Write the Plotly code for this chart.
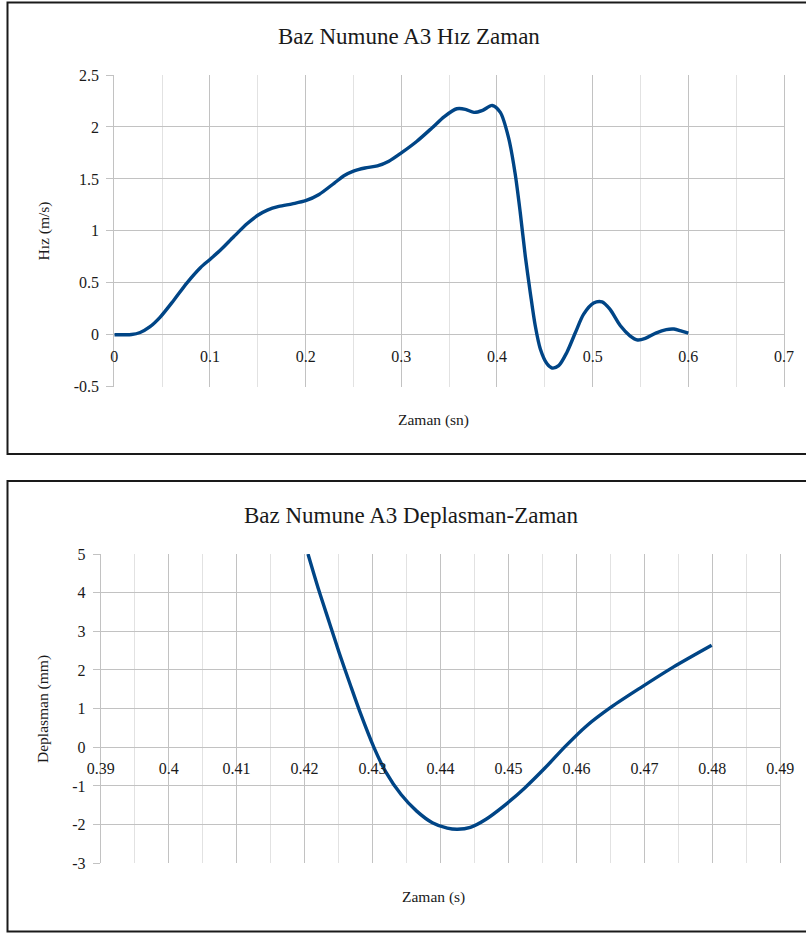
import plotly.graph_objects as go

# ---------------- data ----------------
# Top chart: velocity (m/s) vs time (s)
T_VEL = [0, 0.010, 0.018, 0.027, 0.037, 0.048, 0.062, 0.076, 0.090, 0.100, 0.111,
         0.125, 0.139, 0.150, 0.160, 0.172, 0.186, 0.200, 0.214, 0.230, 0.240, 0.250,
         0.262, 0.275, 0.287, 0.300, 0.316, 0.332, 0.345, 0.358, 0.367, 0.376, 0.385, 0.395,
         0.4035, 0.412, 0.419, 0.4244, 0.4296, 0.4348, 0.440, 0.4453, 0.4523, 0.4575,
         0.4645, 0.473, 0.482, 0.4906, 0.501, 0.5098, 0.518, 0.529, 0.539, 0.547,
         0.555, 0.566, 0.577, 0.585, 0.593, 0.600]
VEL = [0, 0, 0.002, 0.022, 0.075, 0.17, 0.33, 0.50, 0.645, 0.725, 0.815,
       0.945, 1.07, 1.15, 1.20, 1.235, 1.26, 1.29, 1.35, 1.46, 1.53, 1.575,
       1.605, 1.625, 1.67, 1.75, 1.86, 1.99, 2.10, 2.175, 2.17, 2.14, 2.16, 2.207,
       2.14, 1.90, 1.55, 1.17, 0.756, 0.405, 0.086, -0.137, -0.28, -0.32,
       -0.297, -0.17, 0.022, 0.198, 0.305, 0.316, 0.246, 0.086, -0.01, -0.05,
       -0.035, 0.016, 0.05, 0.055, 0.035, 0.015]

# Bottom chart: displacement (mm) vs time (s)
T_DISP = [0.4205, 0.4221, 0.4236, 0.4251, 0.4267, 0.4282, 0.4302, 0.4319, 0.4342,
          0.4365, 0.4388, 0.4410, 0.4425, 0.4444, 0.4467, 0.4493, 0.4524, 0.4554,
          0.4584, 0.4614, 0.4652, 0.4697, 0.4743, 0.4799]
DISP = [5.0, 4.06, 3.25, 2.44, 1.63, 0.89, 0.0, -0.62, -1.22, -1.65, -1.95, -2.09,
        -2.12, -2.07, -1.86, -1.52, -1.05, -0.53, 0.03, 0.54, 1.05, 1.57, 2.08, 2.64]

# tick values / labels
X1_TICKS = [0, 0.1, 0.2, 0.3, 0.4, 0.5, 0.6, 0.7]
X1_LABELS = ["0", "0.1", "0.2", "0.3", "0.4", "0.5", "0.6", "0.7"]
Y1_TICKS = [-0.5, 0, 0.5, 1, 1.5, 2, 2.5]
Y1_LABELS = ["-0.5", "0", "0.5", "1", "1.5", "2", "2.5"]
X2_TICKS = [0.39, 0.40, 0.41, 0.42, 0.43, 0.44, 0.45, 0.46, 0.47, 0.48, 0.49]
X2_LABELS = ["0.39", "0.4", "0.41", "0.42", "0.43", "0.44", "0.45", "0.46", "0.47", "0.48", "0.49"]
Y2_TICKS = [-3, -2, -1, 0, 1, 2, 3, 4, 5]
Y2_LABELS = ["-3", "-2", "-1", "0", "1", "2", "3", "4", "5"]

TITLE1 = "Baz Numune A3 Hız Zaman"
TITLE2 = "Baz Numune A3 Deplasman-Zaman"

# ---------------- layout geometry ----------------
W, H = 806, 934
def px(x):
    return x / W
def py(y):
    return 1 - y / H

X1_RANGE = [0, 0.7]
Y1_RANGE = [-0.5, 2.5]
X2_RANGE = [0.39, 0.49]
Y2_RANGE = [-3, 5]

x1_dom = [px(114.3), px(784)]
y1_dom = [py(386.7), py(75)]
x2_dom = [px(100.7), px(780.3)]
y2_dom = [py(863.3), py(554)]

def zero_pos(dom, rng):
    return dom[0] + (0 - rng[0]) / (rng[1] - rng[0]) * (dom[1] - dom[0])

FONT = "Liberation Serif, DejaVu Serif, serif"
TXT = "#1a1a1a"
LINE = "#004586"
GRID = "#c2c2c2"
MINOR = "#e2e2e2"

fig = go.Figure()
fig.add_trace(go.Scatter(x=T_VEL, y=VEL, mode="lines", xaxis="x", yaxis="y",
                         line=dict(color=LINE, width=3.4, shape="spline", smoothing=0.8),
                         showlegend=False, hoverinfo="skip"))
fig.add_trace(go.Scatter(x=T_DISP, y=DISP, mode="lines", xaxis="x2", yaxis="y2",
                         line=dict(color=LINE, width=3.4, shape="spline", smoothing=0.8),
                         showlegend=False, hoverinfo="skip"))

tickfont = dict(family=FONT, size=16, color=TXT)

def xaxis(dom, rng, ticks, labels, minor, ydom, yrng):
    return dict(domain=dom, range=rng, anchor="free", position=zero_pos(ydom, yrng),
                tickmode="array", tickvals=ticks, ticktext=labels,
                showgrid=True, gridcolor=GRID, gridwidth=1,
                minor=dict(tickmode="linear", tick0=rng[0], dtick=minor, showgrid=True,
                           gridcolor=MINOR, gridwidth=1, ticks=""),
                zeroline=False, showline=False, ticks="", ticklabelstandoff=10,
                tickfont=tickfont, automargin=False, fixedrange=True)

def yaxis(dom, rng, ticks, labels, anchor_x):
    return dict(domain=dom, range=rng, anchor=anchor_x,
                tickmode="array", tickvals=ticks, ticktext=labels,
                showgrid=True, gridcolor=GRID, gridwidth=1,
                zeroline=False, showline=True, mirror=True, linecolor=GRID, linewidth=1,
                ticks="outside", ticklen=7, tickcolor=GRID, tickwidth=1,
                ticklabelstandoff=4,
                tickfont=tickfont, automargin=False, fixedrange=True)

fig.update_layout(
    width=W, height=H,
    margin=dict(l=0, r=0, t=0, b=0),
    paper_bgcolor="white", plot_bgcolor="white",
    xaxis=xaxis(x1_dom, X1_RANGE, X1_TICKS, X1_LABELS, 0.05, y1_dom, Y1_RANGE),
    yaxis=yaxis(y1_dom, Y1_RANGE, Y1_TICKS, Y1_LABELS, "x"),
    xaxis2=xaxis(x2_dom, X2_RANGE, X2_TICKS, X2_LABELS, 0.005, y2_dom, Y2_RANGE),
    yaxis2=yaxis(y2_dom, Y2_RANGE, Y2_TICKS, Y2_LABELS, "x2"),
    shapes=[
        dict(type="rect", xref="paper", yref="paper", x0=px(7.5), x1=1.02,
             y0=py(454), y1=py(2.5), line=dict(color="#1a1a1a", width=2)),
        dict(type="rect", xref="paper", yref="paper", x0=px(7.5), x1=1.02,
             y0=py(931.5), y1=py(481), line=dict(color="#1a1a1a", width=2)),
    ],
    annotations=[
        dict(text=TITLE1, x=px(408.5), y=py(37), xref="paper", yref="paper",
             showarrow=False, xanchor="center", yanchor="middle",
             font=dict(family=FONT, size=23, color=TXT)),
        dict(text=TITLE2, x=px(411.5), y=py(515), xref="paper", yref="paper",
             showarrow=False, xanchor="center", yanchor="middle",
             font=dict(family=FONT, size=23, color=TXT)),
        dict(text="Zaman (sn)", x=px(433), y=py(420), xref="paper", yref="paper",
             showarrow=False, xanchor="center", yanchor="middle",
             font=dict(family=FONT, size=15.5, color=TXT)),
        dict(text="Hız (m/s)", x=px(43.5), y=py(231), xref="paper", yref="paper",
             showarrow=False, xanchor="center", yanchor="middle", textangle=-90,
             font=dict(family=FONT, size=15.5, color=TXT)),
        dict(text="Zaman (s)", x=px(433), y=py(897), xref="paper", yref="paper",
             showarrow=False, xanchor="center", yanchor="middle",
             font=dict(family=FONT, size=15.5, color=TXT)),
        dict(text="Deplasman (mm)", x=px(43), y=py(709), xref="paper", yref="paper",
             showarrow=False, xanchor="center", yanchor="middle", textangle=-90,
             font=dict(family=FONT, size=15.5, color=TXT)),
    ],
)

fig.write_html("out.html", config={"displayModeBar": False},
               post_script="document.body.style.margin='0';")
